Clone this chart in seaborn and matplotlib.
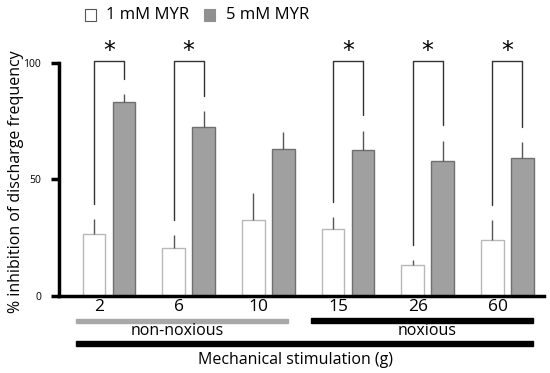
import numpy as np
import pandas as pd
import matplotlib
matplotlib.use("Agg")
import matplotlib.pyplot as plt
from matplotlib.patches import Rectangle
import seaborn as sns

# data
stimulus = ["2", "6", "10", "15", "26", "60"]
myr_1mM = [26.6, 20.4, 32.6, 28.6, 13.3, 24.0]
myr_1mM_err = [6.3, 5.7, 11.4, 5.4, 2.1, 8.6]
myr_5mM = [83.3, 72.6, 62.9, 62.6, 57.9, 59.0]
myr_5mM_err = [3.3, 6.8, 7.5, 8.3, 8.7, 7.1]
significant = [True, True, False, True, True, True]

df = pd.DataFrame({
    "stim": stimulus * 2,
    "value": myr_1mM + myr_5mM,
    "dose": ["1 mM MYR"] * 6 + ["5 mM MYR"] * 6,
})

sns.set_style("white")
plt.rcParams["font.family"] = ["Open Sans", "DejaVu Sans"]
plt.rcParams["text.color"] = "black"
plt.rcParams["axes.labelcolor"] = "black"
plt.rcParams["xtick.color"] = "black"
plt.rcParams["ytick.color"] = "black"

fig = plt.figure(figsize=(5.5, 3.73), dpi=100)
ax = fig.add_axes([59 / 550, 77 / 373, 485 / 550, 280 / 373])

sns.barplot(data=df, x="stim", y="value", hue="dose",
            palette={"1 mM MYR": "white", "5 mM MYR": "#a0a0a0"},
            width=0.752, gap=0.245, legend=False, ax=ax)

edge = {0: "#b8b8b8", 1: "#707070"}
tops = {}
for i, patch in enumerate(ax.patches[:12]):
    grp = i // 6
    patch.set_edgecolor(edge[grp])
    patch.set_linewidth(1.0)
    k = i % 6
    xc = patch.get_x() + patch.get_width() / 2
    vals = myr_1mM if grp == 0 else myr_5mM
    errs = myr_1mM_err if grp == 0 else myr_5mM_err
    ax.vlines(xc, vals[k], vals[k] + errs[k], color="#555555", lw=1.0, zorder=3)
    tops[(grp, k)] = (xc, vals[k] + errs[k])

# significance brackets
top_y = 100.9
for k, sig in enumerate(significant):
    if not sig:
        continue
    x0, e0 = tops[(0, k)]
    x1, e1 = tops[(1, k)]
    ax.plot([x0, x0, x1, x1], [e0 + 6.5, top_y, top_y, e1 + 6.5],
            color="#333333", lw=1.0, clip_on=False)
    ax.text((x0 + x1) / 2, 100.0, "*", ha="center", va="bottom",
            fontsize=17, color="black", family="DejaVu Sans")

ax.set_xlim(-0.626, 5.459)
ax.set_ylim(0, 120)
ax.set_yticks([0, 50, 100])
ax.set_yticklabels(["0", "50", "100"], fontsize=7.5)
ax.set_xticks(np.arange(6) - 0.12)
ax.set_xticklabels(stimulus, fontsize=12.5)
ax.tick_params(axis="y", length=6, width=2.5, color="black", pad=7, left=True)
ax.tick_params(axis="x", length=0, pad=2)
for s in ["top", "right"]:
    ax.spines[s].set_visible(False)
ax.spines["left"].set_bounds(0, 100)
ax.spines["left"].set_linewidth(2.5)
ax.spines["bottom"].set_linewidth(2.5)
ax.spines["left"].set_color("black")
ax.spines["bottom"].set_color("black")
ax.set_xlabel("")
ax.set_ylabel("% inhibition of discharge frequency", fontsize=11.5)
ax.yaxis.set_label_coords(-35 / 485, 0.41)

fig.patches.append(Rectangle((76 / 550, 1 - 323 / 373), 212 / 550, 4 / 373,
                             transform=fig.transFigure, color="#a8a8a8"))
fig.patches.append(Rectangle((311 / 550, 1 - 323 / 373), 222 / 550, 5 / 373,
                             transform=fig.transFigure, color="black"))
fig.patches.append(Rectangle((76 / 550, 1 - 346 / 373), 457 / 550, 5 / 373,
                             transform=fig.transFigure, color="black"))
fig.text(177 / 550, 1 - 331 / 373, "non-noxious", ha="center", va="center", fontsize=11.5)
fig.text(427 / 550, 1 - 331 / 373, "noxious", ha="center", va="center", fontsize=11.5)
fig.text(295 / 550, 1 - 360 / 373, "Mechanical stimulation (g)", ha="center", va="center",
         fontsize=11.5)

# legend
fig.patches.append(Rectangle((85 / 550, 1 - 21 / 373), 11 / 550, 12 / 373,
                             transform=fig.transFigure, facecolor="white",
                             edgecolor="#555555", lw=0.8))
fig.text(106 / 550, 1 - 15 / 373, "1 mM MYR", ha="left", va="center", fontsize=12)
fig.patches.append(Rectangle((204 / 550, 1 - 21 / 373), 11 / 550, 12 / 373,
                             transform=fig.transFigure, facecolor="#909090",
                             edgecolor="#909090", lw=0.8))
fig.text(226 / 550, 1 - 15 / 373, "5 mM MYR", ha="left", va="center", fontsize=12)

fig.savefig("out.png", dpi=100)
